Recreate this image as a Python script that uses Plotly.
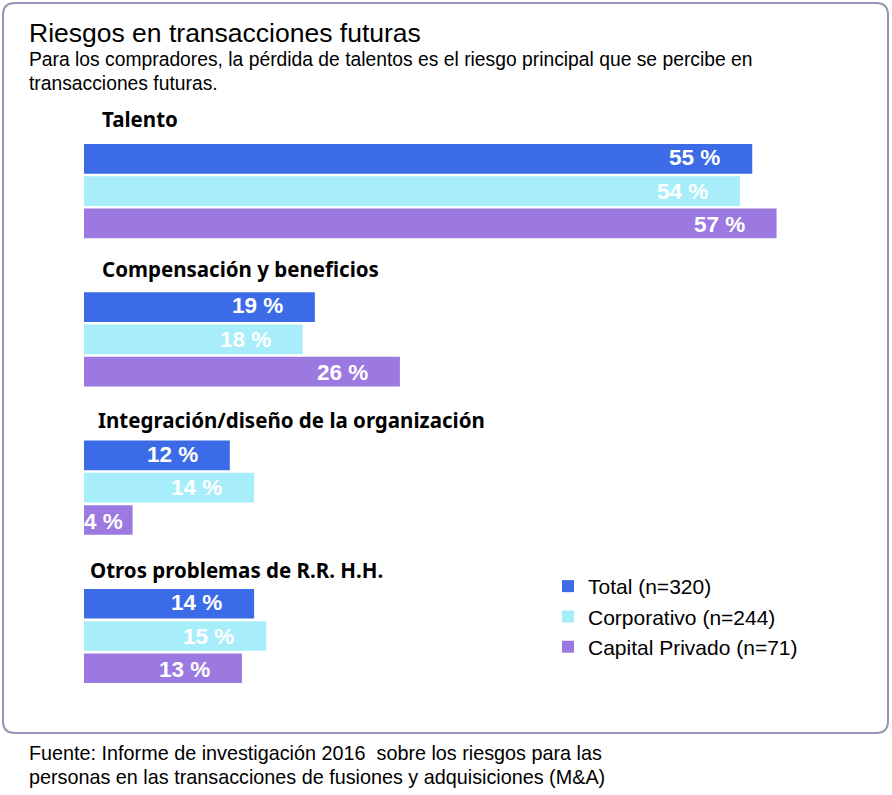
import plotly.graph_objects as go

groups = ["Talento", "Compensación y beneficios", "Integración/diseño de la organización", "Otros problemas de R.R. H.H."]
series_names = ["Total (n=320)", "Corporativo (n=244)", "Capital Privado (n=71)"]
total = [55, 19, 12, 14]
corporativo = [54, 18, 14, 15]
capital = [57, 26, 4, 13]
colors = ["#3b6be6", "#a8eefa", "#9b79e0"]

W, H = 892, 795
ML, MR, MT, MB = 84, 6, 117, 77
PW, PH = W - ML - MR, H - MT - MB


def px(x):
    return (x - ML) / PW


def py(y):
    return 1 - (y - MT) / PH


fig = go.Figure()
for name, vals, col in zip(series_names, [total, corporativo, capital], colors):
    fig.add_trace(go.Bar(
        y=groups, x=vals, orientation="h", name=name,
        marker=dict(color=col, line=dict(width=0)),
        hoverinfo="x+name",
    ))

annotations = []
# data labels
for ti, vals in enumerate([total, corporativo, capital]):
    for gi, v in enumerate(vals):
        annotations.append(dict(
            x=v, y=groups[gi], xref="x", yref="y", text=f"{v} %",
            showarrow=False, xanchor="right", xshift=-30 if v > 8 else -8,
            yshift=(1 - ti) * 33.5,
            font=dict(family="Liberation Sans", size=22.5, color="white", weight="bold"),
        ))
# group labels
label_x = [100, 100, 96, 88]
for gi, g in enumerate(groups):
    annotations.append(dict(
        x=px(label_x[gi]), xref="paper", y=g, yref="y", text=g, showarrow=False,
        xanchor="left", yanchor="middle", yshift=72 - gi * 2,
        font=dict(family="Noto Sans", size=20.5, color="black", weight="bold"),
    ))
# title etc.
annotations += [
    dict(x=px(27), y=py(33), xref="paper", yref="paper", text="Riesgos en transacciones futuras",
         showarrow=False, xanchor="left", yanchor="middle",
         font=dict(family="Liberation Sans", size=26.5, color="black")),
    dict(x=px(27), y=py(59), xref="paper", yref="paper",
         text="Para los compradores, la pérdida de talentos es el riesgo principal que se percibe en",
         showarrow=False, xanchor="left", yanchor="middle",
         font=dict(family="Liberation Sans", size=19.3, color="black")),
    dict(x=px(27), y=py(83), xref="paper", yref="paper", text="transacciones futuras.",
         showarrow=False, xanchor="left", yanchor="middle",
         font=dict(family="Liberation Sans", size=19.3, color="black")),
    dict(x=px(27), y=py(753), xref="paper", yref="paper",
         text="Fuente: Informe de investigación 2016  sobre los riesgos para las",
         showarrow=False, xanchor="left", yanchor="middle",
         font=dict(family="Liberation Sans", size=19.8, color="black")),
    dict(x=px(27), y=py(777), xref="paper", yref="paper",
         text="personas en las transacciones de fusiones y adquisiciones (M&A)",
         showarrow=False, xanchor="left", yanchor="middle",
         font=dict(family="Liberation Sans", size=19.8, color="black")),
]

# rounded border
x0, x1, y0, y1, r = 3, 888, 3, 733, 12
rx, ry = r / PW, r / PH
X0, X1, Y0, Y1 = px(x0), px(x1), py(y0), py(y1)
path = (f"M {X0+rx},{Y0} L {X1-rx},{Y0} Q {X1},{Y0} {X1},{Y0-ry} "
        f"L {X1},{Y1+ry} Q {X1},{Y1} {X1-rx},{Y1} L {X0+rx},{Y1} Q {X0},{Y1} {X0},{Y1+ry} "
        f"L {X0},{Y0-ry} Q {X0},{Y0} {X0+rx},{Y0} Z")

fig.update_layout(
    width=W, height=H,
    margin=dict(l=ML, r=MR, t=MT, b=MB),
    paper_bgcolor="white", plot_bgcolor="white",
    barmode="group", bargap=0.347, bargroupgap=0.08,
    xaxis=dict(range=[0, PW / 12.15], visible=False, fixedrange=True),
    yaxis=dict(autorange="reversed", visible=False, fixedrange=True),
    legend=dict(x=px(548), y=py(566), xanchor="left", yanchor="top",
                font=dict(family="Liberation Sans", size=21, color="black"),
                bgcolor="rgba(0,0,0,0)", traceorder="normal", tracegroupgap=0),
    annotations=annotations,
    shapes=[dict(type="path", path=path, xref="paper", yref="paper",
                 line=dict(color="#9494b4", width=2), layer="below")],
)

fig.write_html("out.html")
